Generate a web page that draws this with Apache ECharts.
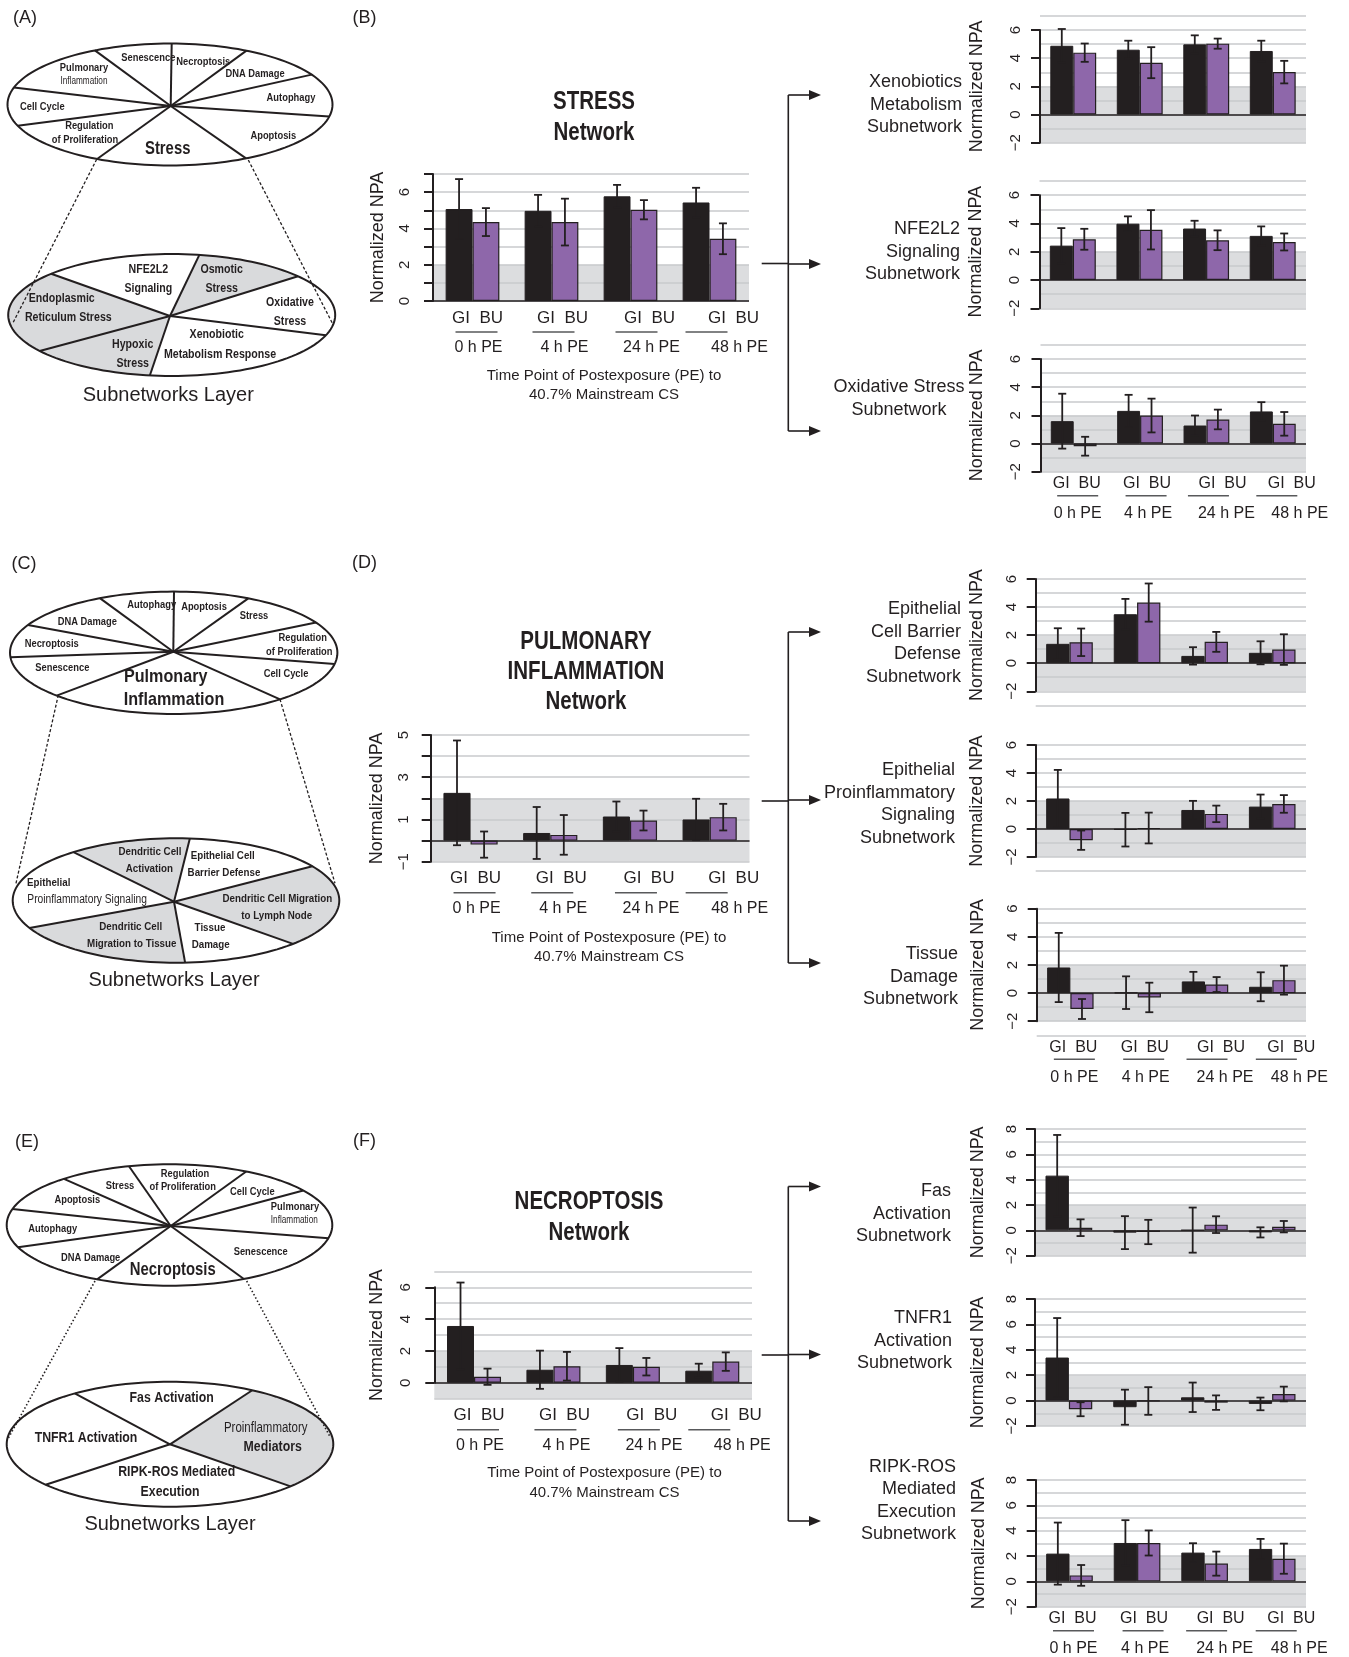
<!DOCTYPE html>
<html>
<head>
<meta charset="utf-8">
<script src="https://cdn.jsdelivr.net/npm/echarts@6/dist/echarts.min.js"></script>
<style>
  html, body { margin: 0; padding: 0; background: #fff; }
  #main { width: 1349px; height: 1657px; }
</style>
</head>
<body>
<div id="main"></div>
<script>
// ---- categories ----
const groupLabels = ['0 h PE', '4 h PE', '24 h PE', '48 h PE'];
const barNames = ['GI', 'BU'];

// ---- tick labels ----
const ticksStress = [0, 2, 4, 6];
const ticksPulm = [-1, 1, 3, 5];
const ticksNecro = [0, 2, 4, 6];
const ticksSub6 = [-2, 0, 2, 4, 6];
const ticksSub8 = [-2, 0, 2, 4, 6, 8];

// ---- Stress network ----
const stressGI = [5.07, 4.97, 5.77, 5.43];
const stressGIErr = [1.65, 0.88, 0.63, 0.81];
const stressBU = [4.35, 4.35, 5.03, 3.43];
const stressBUErr = [0.77, 1.29, 0.53, 0.85];

const xenoGI = [4.88, 4.60, 4.98, 4.51];
const xenoGIErr = [1.19, 0.64, 0.64, 0.73];
const xenoBU = [4.39, 3.68, 5.03, 3.01];
const xenoBUErr = [0.65, 1.10, 0.36, 0.80];

const nfeGI = [2.43, 3.98, 3.64, 3.12];
const nfeGIErr = [1.24, 0.52, 0.55, 0.67];
const nfeBU = [2.88, 3.55, 2.81, 2.69];
const nfeBUErr = [0.74, 1.39, 0.70, 0.60];

const oxiGI = [1.59, 2.32, 1.28, 2.28];
const oxiGIErr = [1.95, 1.14, 0.71, 0.66];
const oxiBU = [-0.19, 1.99, 1.71, 1.40];
const oxiBUErr = [0.67, 1.20, 0.70, 0.84];

// ---- Pulmonary inflammation network ----
const pulmGI = [2.26, 0.36, 1.14, 1.00];
const pulmGIErr = [2.48, 1.23, 0.71, 0.98];
const pulmBU = [-0.19, 0.27, 0.95, 1.11];
const pulmBUErr = [0.62, 0.94, 0.47, 0.63];

const barrierGI = [1.38, 3.49, 0.52, 0.74];
const barrierGIErr = [1.11, 1.09, 0.62, 0.82];
const barrierBU = [1.49, 4.32, 1.52, 0.97];
const barrierBUErr = [0.98, 1.36, 0.71, 1.09];

const proinfGI = [2.18, -0.05, 1.36, 1.60];
const proinfGIErr = [2.04, 1.20, 0.65, 0.86];
const proinfBU = [-0.80, 0.07, 1.08, 1.79];
const proinfBUErr = [0.69, 1.10, 0.59, 0.63];

const tissueGI = [1.82, 0.03, 0.83, 0.45];
const tissueGIErr = [2.46, 1.16, 0.68, 1.03];
const tissueBU = [-1.13, -0.31, 0.61, 0.92];
const tissueBUErr = [0.71, 1.05, 0.53, 1.03];

// ---- Necroptosis network ----
const necroGI = [3.57, 0.82, 1.12, 0.76];
const necroGIErr = [2.73, 1.20, 1.06, 0.44];
const necroBU = [0.38, 1.04, 1.01, 1.33];
const necroBUErr = [0.51, 0.90, 0.55, 0.58];

const fasGI = [4.32, -0.18, 0.02, -0.16];
const fasGIErr = [3.21, 1.30, 1.78, 0.40];
const fasBU = [0.21, -0.13, 0.45, 0.29];
const fasBUErr = [0.66, 0.96, 0.66, 0.45];

const tnfGI = [3.39, -0.52, 0.26, -0.26];
const tnfGIErr = [3.11, 1.38, 1.16, 0.50];
const tnfBU = [-0.68, -0.03, -0.16, 0.52];
const tnfBUErr = [0.55, 1.09, 0.57, 0.58];

const ripkGI = [2.19, 3.03, 2.27, 2.56];
const ripkGIErr = [2.45, 1.80, 0.74, 0.79];
const ripkBU = [0.47, 3.03, 1.40, 1.79];
const ripkBUErr = [0.82, 0.99, 0.95, 1.19];

// ---- styling ----
const FONT = '"Liberation Sans", Arial, Helvetica, sans-serif';
const INK = '#231f20';
const PURPLE = '#8e67aa';
const BAND = '#dcdddf';
const GRIDC = '#c9cacc';
const SECTOR = '#d9dadc';

// layout of each bar chart (pixel frame + value frames)
const charts = [
  { gi: stressGI, giErr: stressGIErr, bu: stressBU, buErr: stressBUErr, ticks: ticksStress,
    left: 433, right: 749, top: 174, bottom: 301, lo: 0, hi: 7, aLo: 0, aHi: 7, aInt: 1,
    band: [0, 2], main: true, xlab: true, nameGap: 46, labMargin: 21 },
  { gi: xenoGI, giErr: xenoGIErr, bu: xenoBU, buErr: xenoBUErr, ticks: ticksSub6,
    left: 1040, right: 1306, top: 15.9, bottom: 142.7, lo: -2, hi: 7, aLo: -2, aHi: 6, aInt: 2,
    band: [-2, 2], main: false, xlab: false, nameGap: 54, labMargin: 17 },
  { gi: nfeGI, giErr: nfeGIErr, bu: nfeBU, buErr: nfeBUErr, ticks: ticksSub6,
    left: 1039.5, right: 1306, top: 181, bottom: 308.3, lo: -2, hi: 7, aLo: -2, aHi: 6, aInt: 2,
    band: [-2, 2], main: false, xlab: false, nameGap: 54, labMargin: 17 },
  { gi: oxiGI, giErr: oxiGIErr, bu: oxiBU, buErr: oxiBUErr, ticks: ticksSub6,
    left: 1040.5, right: 1306, top: 345, bottom: 471.7, lo: -2, hi: 7, aLo: -2, aHi: 6, aInt: 2,
    band: [-2, 2], main: false, xlab: true, nameGap: 54, labMargin: 17 },

  { gi: pulmGI, giErr: pulmGIErr, bu: pulmBU, buErr: pulmBUErr, ticks: ticksPulm,
    left: 430.7, right: 749.5, top: 735, bottom: 861.7, lo: -1, hi: 5, aLo: -1, aHi: 5, aInt: 1,
    band: [-1, 2], main: true, xlab: true, nameGap: 45, labMargin: 19 },
  { gi: barrierGI, giErr: barrierGIErr, bu: barrierBU, buErr: barrierBUErr, ticks: ticksSub6,
    left: 1035.7, right: 1306, top: 579, bottom: 705.3, lo: -3, hi: 6, aLo: -2, aHi: 6, aInt: 2,
    band: [-2, 2], main: false, xlab: false, nameGap: 50, labMargin: 16 },
  { gi: proinfGI, giErr: proinfGIErr, bu: proinfBU, buErr: proinfBUErr, ticks: ticksSub6,
    left: 1035.7, right: 1306, top: 745, bottom: 871, lo: -3, hi: 6, aLo: -2, aHi: 6, aInt: 2,
    band: [-2, 2], main: false, xlab: false, nameGap: 50, labMargin: 16 },
  { gi: tissueGI, giErr: tissueGIErr, bu: tissueBU, buErr: tissueBUErr, ticks: ticksSub6,
    left: 1036.7, right: 1306, top: 908.7, bottom: 1035.3, lo: -3, hi: 6, aLo: -2, aHi: 6, aInt: 2,
    band: [-2, 2], main: false, xlab: true, nameGap: 50, labMargin: 16 },

  { gi: necroGI, giErr: necroGIErr, bu: necroBU, buErr: necroBUErr, ticks: ticksNecro,
    left: 434.3, right: 752, top: 1271.4, bottom: 1398.7, lo: -1, hi: 7, aLo: 0, aHi: 6, aInt: 2,
    band: [-1, 2], main: true, xlab: true, nameGap: 48, labMargin: 21 },
  { gi: fasGI, giErr: fasGIErr, bu: fasBU, buErr: fasBUErr, ticks: ticksSub8,
    left: 1035, right: 1306, top: 1129, bottom: 1255.7, lo: -2, hi: 8, aLo: -2, aHi: 8, aInt: 2,
    band: [-2, 2], main: false, xlab: false, nameGap: 48, labMargin: 16 },
  { gi: tnfGI, giErr: tnfGIErr, bu: tnfBU, buErr: tnfBUErr, ticks: ticksSub8,
    left: 1035, right: 1306, top: 1299, bottom: 1426, lo: -2, hi: 8, aLo: -2, aHi: 8, aInt: 2,
    band: [-2, 2], main: false, xlab: false, nameGap: 48, labMargin: 16 },
  { gi: ripkGI, giErr: ripkGIErr, bu: ripkBU, buErr: ripkBUErr, ticks: ticksSub8,
    left: 1035.7, right: 1306, top: 1480, bottom: 1606.7, lo: -2, hi: 8, aLo: -2, aHi: 8, aInt: 2,
    band: [-2, 2], main: false, xlab: true, nameGap: 48, labMargin: 16 }
];

const option = {
  animation: false,
  backgroundColor: '#fff',
  textStyle: { fontFamily: FONT, color: INK },
  grid: [], xAxis: [], yAxis: [], series: []
};

// category labels: "GI  BU", a short rule, then the time point
function xLabel(main) {
  const fa = main ? 17 : 16, fp = 16;
  const la = main ? 20 : 18, lh = main ? 8 : 6, lp = main ? 24 : 30;
  const offA = main ? [5, 11, 19, 24] : [3, 7, 16, 19];
  const offH = main ? [4, 2, 6, -3] : [4, 6, 2, 4];
  const offP = main ? [6, 13, 21, 30] : [4, 8, 20, 27];
  const rich = {
    a: { fontSize: fa, lineHeight: la, color: INK, align: 'center', fontFamily: FONT },
    h: { width: main ? 42 : 41, height: 0, borderColor: '#58595b', borderWidth: 1.4, lineHeight: lh, align: 'center' },
    p: { fontSize: fp, lineHeight: lp, color: INK, align: 'center', fontFamily: FONT }
  };
  function seg(key, lineH, off, content) {
    if (!off) return '{' + key + '|' + content + '}';
    const w = Math.abs(off) * 2;
    const sp = key + 's' + w;
    rich[sp] = { width: w, lineHeight: lineH, align: 'center' };
    const body = '{' + key + '|' + content + '}';
    return off > 0 ? '{' + sp + '|}' + body : body + '{' + sp + '|}';
  }
  const texts = groupLabels.map((g, i) => [
    seg('a', la, offA[i], barNames.join('  ')),
    seg('h', lh, offH[i], ''),
    seg('p', lp, offP[i], g)
  ].join('\n'));
  return {
    show: true, interval: 0, margin: main ? 7 : 3, color: INK,
    formatter: (v, i) => texts[i], rich: rich
  };
}

function bandRender(params, api) {
  const cs = params.coordSys;
  const y1 = api.coord([0, api.value(2)])[1];
  const y0 = api.coord([0, api.value(1)])[1];
  return { type: 'rect', shape: { x: cs.x, y: y1, width: cs.width, height: y0 - y1 }, style: { fill: BAND } };
}

function errRender(side, ratio) {
  return function (params, api) {
    const ci = api.value(0), v = api.value(1), e = api.value(2);
    const bw = api.size([1, 0])[0] * ratio;
    const x = api.coord([ci, v])[0] + side * bw / 2;
    const top = api.coord([ci, v + e])[1];
    const bot = api.coord([ci, v - e])[1];
    const cap = 4;
    const st = { stroke: INK, lineWidth: 1.8 };
    return { type: 'group', children: [
      { type: 'line', shape: { x1: x, y1: top, x2: x, y2: bot }, style: st },
      { type: 'line', shape: { x1: x - cap, y1: top, x2: x + cap, y2: top }, style: st },
      { type: 'line', shape: { x1: x - cap, y1: bot, x2: x + cap, y2: bot }, style: st }
    ] };
  };
}

function fmtTick(v) { return v < 0 ? '\u2212' + (-v) : String(v); }

charts.forEach(c => {
  const gi = option.grid.length;
  const ppu = (c.bottom - c.top) / (c.hi - c.lo);
  const yA = c.top + (c.hi - c.aHi) * ppu;
  const yB = c.bottom - (c.aLo - c.lo) * ppu;
  option.grid.push({ left: c.left, top: c.top, width: c.right - c.left, height: c.bottom - c.top });
  option.grid.push({ left: c.left, top: yA, width: 1, height: yB - yA });

  const xi = option.xAxis.length;
  option.xAxis.push({
    type: 'category', gridIndex: gi, data: groupLabels,
    axisLine: { show: false, onZero: false }, axisTick: { show: false },
    axisLabel: c.xlab ? xLabel(c.main) : { show: false }
  });
  option.xAxis.push({ type: 'value', gridIndex: gi + 1, show: false, min: 0, max: 1 });

  const yi = option.yAxis.length;
  option.yAxis.push({
    type: 'value', gridIndex: gi, min: c.lo, max: c.hi, interval: 1,
    axisLine: { show: false }, axisTick: { show: false }, axisLabel: { show: false },
    splitLine: { show: true, lineStyle: { color: GRIDC, width: 1.5 } }
  });
  const tk = c.ticks;
  option.yAxis.push({
    type: 'value', gridIndex: gi + 1, min: c.aLo, max: c.aHi, interval: c.aInt,
    axisLine: { show: true, onZero: false, lineStyle: { color: INK, width: 2 } },
    axisTick: { show: true, length: 9, lineStyle: { color: INK, width: 2 } },
    splitLine: { show: false },
    axisLabel: {
      rotate: 90, margin: c.labMargin, fontSize: 15, color: INK, fontFamily: FONT,
      showMinLabel: true, showMaxLabel: true,
      formatter: v => (tk.indexOf(v) >= 0 ? fmtTick(v) : '')
    },
    name: 'Normalized NPA', nameLocation: 'middle', nameGap: c.nameGap, nameRotate: 90,
    nameTextStyle: { fontSize: 18, color: INK, fontFamily: FONT }
  });

  const bw = c.main ? 0.34 : 0.345;
  option.series.push({
    type: 'custom', xAxisIndex: xi, yAxisIndex: yi, z: -1, silent: true,
    data: [[0, c.band[0], c.band[1]]], encode: { x: 0, y: 1 }, renderItem: bandRender
  });
  option.series.push({
    type: 'bar', name: barNames[0], xAxisIndex: xi, yAxisIndex: yi, data: c.gi,
    barWidth: (bw * 100) + '%', barGap: '0%', silent: true,
    itemStyle: { color: INK, borderColor: INK, borderWidth: 1 },
    markLine: {
      silent: true, symbol: ['none', 'none'], label: { show: false },
      lineStyle: { color: INK, width: 1.6, type: 'solid' }, data: [{ yAxis: 0 }]
    }
  });
  option.series.push({
    type: 'bar', name: barNames[1], xAxisIndex: xi, yAxisIndex: yi, data: c.bu,
    barWidth: (bw * 100) + '%', barGap: '0%', silent: true,
    itemStyle: { color: PURPLE, borderColor: INK, borderWidth: 1.2 }
  });
  option.series.push({
    type: 'custom', xAxisIndex: xi, yAxisIndex: yi, z: 4, silent: true,
    data: c.gi.map((v, i) => [i, v, c.giErr[i]]), encode: { x: 0, y: 1 }, renderItem: errRender(-1, bw)
  });
  option.series.push({
    type: 'custom', xAxisIndex: xi, yAxisIndex: yi, z: 4, silent: true,
    data: c.bu.map((v, i) => [i, v, c.buErr[i]]), encode: { x: 0, y: 1 }, renderItem: errRender(1, bw)
  });
});

// ---------------- graphic layer: network diagrams, titles, arrows ----------------
const G = [];
function txt(s, x, y, o) {
  o = o || {};
  G.push({
    type: 'text', x: x, y: y, scaleX: o.sx || 1, z: o.z || 20, silent: true,
    style: {
      text: s, fill: INK, fontFamily: FONT, fontSize: o.size || 11,
      fontWeight: o.bold === false ? 'normal' : 'bold',
      align: o.align || 'center', verticalAlign: 'middle', lineHeight: o.lh
    }
  });
}
function seg(x1, y1, x2, y2, w, dash, z) {
  G.push({ type: 'line', silent: true, z: z || 8, shape: { x1: x1, y1: y1, x2: x2, y2: y2 },
    style: { stroke: INK, lineWidth: w || 1.5, lineDash: dash || undefined } });
}
function ellPt(e, t) { return [e.cx + e.rx * Math.cos(t), e.cy + e.ry * Math.sin(t)]; }
function ellT(e, p) { return Math.atan2((p[1] - e.cy) / e.ry, (p[0] - e.cx) / e.rx); }
function wheel(e, hub, spokes, grey) {
  (grey || []).forEach(pr => {
    let t1 = ellT(e, pr[0]), t2 = ellT(e, pr[1]);
    if (t2 < t1) t2 += 2 * Math.PI;
    const pts = [hub];
    for (let i = 0; i <= 40; i++) pts.push(ellPt(e, t1 + (t2 - t1) * i / 40));
    G.push({ type: 'polygon', silent: true, z: 2, shape: { points: pts }, style: { fill: SECTOR } });
  });
  spokes.forEach(p => {
    const q = ellPt(e, ellT(e, p));
    seg(hub[0], hub[1], q[0], q[1], 2, null, 12);
  });
  const pts = [];
  for (let i = 0; i < 160; i++) pts.push(ellPt(e, 2 * Math.PI * i / 160));
  G.push({ type: 'polygon', silent: true, z: 12, shape: { points: pts }, style: { fill: 'none', stroke: INK, lineWidth: 2 } });
}
const SX = 0.85;
function small(list, size) {
  list.forEach(l => txt(l[0], l[1], l[2], Object.assign({ size: size, sx: SX }, l[3] || {})));
}

// panel letters
[['(A)', 25, 18], ['(B)', 364.5, 18], ['(C)', 24, 564], ['(D)', 364.5, 563], ['(E)', 27, 1142], ['(F)', 364.5, 1141]]
  .forEach(l => txt(l[0], l[1], l[2], { size: 18, bold: false }));

// ---- (A) stress wheel ----
const aTop = { cx: 170, cy: 104.5, rx: 162.5, ry: 61 };
const aLow = { cx: 171.7, cy: 315, rx: 163.5, ry: 61 };
seg(96.7, 159.3, 12.7, 323.3, 1.3, [3, 2], 6);
seg(248.3, 160, 333.3, 325, 1.3, [3, 2], 6);
wheel(aTop, [170.7, 106], [[96.7, 51.7], [171.7, 43.3], [245, 51.7], [310, 75], [330.7, 116.7], [248.3, 160], [96.7, 159.3], [16, 126], [15, 87.7]]);
wheel(aLow, [170, 316], [[51.7, 274], [199.3, 255], [296.7, 276.7], [323.3, 335], [150, 375], [43.3, 350]],
  [[[199.3, 255], [296.7, 276.7]], [[150, 375], [43.3, 350]], [[43.3, 350], [51.7, 274]]]);
small([['Senescence', 148.3, 58.3], ['Necroptosis', 203.3, 61.7], ['Pulmonary', 84, 68.3],
  ['Inflammation', 84, 81.7, { bold: false, size: 10, sx: 0.82 }], ['DNA Damage', 255, 74], ['Autophagy', 291, 98.3],
  ['Cell Cycle', 42.3, 107.3], ['Apoptosis', 273.3, 136], ['Regulation', 89.3, 126], ['of Proliferation', 85, 140],
  ['Stress', 167.7, 149.3, { size: 17.5 }]], 11);
small([['NFE2L2', 148.3, 269.3], ['Signaling', 148.3, 288.7], ['Osmotic', 221.7, 269.3], ['Stress', 221.7, 288.3],
  ['Oxidative', 290, 302.7], ['Stress', 290, 321.7], ['Xenobiotic', 216.7, 334.3], ['Metabolism Response', 220, 354.3],
  ['Hypoxic', 132.7, 344.3], ['Stress', 132.7, 363.3], ['Endoplasmic', 61.7, 298.3], ['Reticulum Stress', 68.3, 317.3]], 12.5);
txt('Subnetworks Layer', 168.3, 395, { size: 20, bold: false });

// ---- (C) pulmonary inflammation wheel ----
const cTop = { cx: 173.7, cy: 652.8, rx: 163.7, ry: 61.2 };
const cLow = { cx: 176, cy: 900.5, rx: 163.3, ry: 62.2 };
seg(58.3, 695, 16, 883.3, 1.3, [3, 2], 6);
seg(280, 699.3, 335, 883.3, 1.3, [3, 2], 6);
wheel(cTop, [173.3, 651.7], [[100, 598.3], [174, 591.7], [248.3, 598.3], [320, 621.7], [335, 664], [280, 699.3], [58.3, 695], [11.7, 657.3], [28.3, 625]]);
wheel(cLow, [174, 901.7], [[76, 853.3], [189.3, 841], [308.3, 867.3], [293.3, 944], [185, 961.7], [30.7, 927.7]],
  [[[76, 853.3], [189.3, 841]], [[308.3, 867.3], [293.3, 944]], [[185, 961.7], [30.7, 927.7]]]);
small([['Autophagy', 151.7, 605], ['Apoptosis', 204, 606.7], ['Stress', 254, 616], ['DNA Damage', 87.3, 621.7],
  ['Regulation', 302.7, 638.3], ['of Proliferation', 299.3, 651.7], ['Necroptosis', 51.7, 644], ['Senescence', 62.3, 668.3],
  ['Cell Cycle', 286, 674], ['Pulmonary', 165.7, 676.7, { size: 19 }], ['Inflammation', 174, 700, { size: 19 }]], 11);
small([['Dendritic Cell', 150, 852.3], ['Activation', 149.3, 869.3], ['Epithelial Cell', 222.7, 855.7], ['Barrier Defense', 224, 872.7],
  ['Epithelial', 27, 882.7, { align: 'left' }], ['Proinflammatory Signaling', 27.3, 900, { align: 'left', bold: false, size: 12.5, sx: 0.82 }],
  ['Dendritic Cell Migration', 277.3, 899.3], ['to Lymph Node', 276.7, 916], ['Tissue', 210, 927.7], ['Damage', 210.7, 945],
  ['Dendritic Cell', 130.7, 927.3], ['Migration to Tissue', 131.7, 944]], 11.5);
txt('Subnetworks Layer', 174, 980.7, { size: 20, bold: false });

// ---- (E) necroptosis wheel ----
const eTop = { cx: 169.5, cy: 1225, rx: 162.8, ry: 60.7 };
const eLow = { cx: 170, cy: 1444.2, rx: 163.3, ry: 62.5 };
seg(95, 1281, 7.3, 1440, 1.6, [1.5, 2.2], 6);
seg(246.7, 1281, 330, 1436.7, 1.6, [1.5, 2.2], 6);
wheel(eTop, [170.7, 1226], [[66.7, 1180], [129.3, 1166.7], [248.3, 1170], [298.3, 1191.7], [330, 1238.3], [246.7, 1281], [95, 1281], [15, 1247.7], [15, 1209.3]]);
wheel(eLow, [170, 1444.3], [[68.3, 1390], [250, 1391.7], [286.7, 1485], [50, 1483.3]], [[[250, 1391.7], [286.7, 1485]]]);
small([['Stress', 120, 1185.7], ['Regulation', 185, 1174.3], ['of Proliferation', 182.7, 1187.3], ['Cell Cycle', 252.3, 1191.7],
  ['Pulmonary', 295, 1207.3], ['Inflammation', 294.3, 1220.7, { bold: false, size: 10, sx: 0.82 }], ['Apoptosis', 77.3, 1200],
  ['Autophagy', 52.7, 1229], ['DNA Damage', 90.7, 1257.7], ['Senescence', 260.7, 1252.3], ['Necroptosis', 172.7, 1270, { size: 17.5 }]], 11);
small([['Fas Activation', 171.7, 1398.3], ['TNFR1 Activation', 86, 1438.3],
  ['Proinflammatory', 265.7, 1428.3, { bold: false, size: 14, sx: 0.82 }], ['Mediators', 272.7, 1446.7],
  ['RIPK-ROS Mediated', 176.7, 1472.3], ['Execution', 170, 1491.7]], 14.5);
txt('Subnetworks Layer', 170, 1524, { size: 20, bold: false });

// ---- network titles and x-axis captions ----
function heading(lines, x, ys) {
  lines.forEach((s, i) => txt(s, x, ys[i], { size: 25, sx: 0.82 }));
}
heading(['STRESS', 'Network'], 594, [102, 133]);
heading(['PULMONARY', 'INFLAMMATION', 'Network'], 586, [641.7, 671.7, 701.7]);
heading(['NECROPTOSIS', 'Network'], 589, [1202, 1232.7]);
const caption = ['Time Point of Postexposure (PE) to', '40.7% Mainstream CS'];
[[604, 376, 395], [609, 938, 957], [604.5, 1472.7, 1492.7]].forEach(p => {
  txt(caption[0], p[0], p[1], { size: 15, bold: false });
  txt(caption[1], p[0], p[2], { size: 15, bold: false });
});

// ---- subnetwork names ----
function side(s, x, y, align) { txt(s, x, y, { size: 18, bold: false, align: align || 'right', lh: 22.5 }); }
side('Xenobiotics\nMetabolism\nSubnetwork', 962, 104.8);
side('NFE2L2\nSignaling\nSubnetwork', 960, 251.7);
side('Oxidative Stress\nSubnetwork', 899, 398.3, 'center');
side('Epithelial\nCell Barrier\nDefense\nSubnetwork', 961, 642.8);
side('Epithelial\nProinflammatory\nSignaling\nSubnetwork', 955, 804);
side('Tissue\nDamage\nSubnetwork', 958, 977);
side('Fas\nActivation\nSubnetwork', 951, 1213.8);
side('TNFR1\nActivation\nSubnetwork', 952, 1340.6);
side('RIPK-ROS\nMediated\nExecution\nSubnetwork', 956, 1500.7);

// ---- arrows from each network to its subnetworks ----
function arrows(yTop, yMid, yBot, yIn) {
  const vx = 788.3, tip = 821;
  seg(vx, yTop, vx, yBot, 1.6);
  seg(761.7, yIn, vx, yIn, 1.6);
  [yTop, yMid, yBot].forEach(y => {
    seg(vx, y, tip - 8, y, 1.6);
    G.push({ type: 'polygon', silent: true, z: 9, shape: { points: [[tip, y], [tip - 12, y - 5], [tip - 12, y + 5]] }, style: { fill: INK } });
  });
}
arrows(95, 264, 431, 263.5);
arrows(632, 800, 963, 801);
arrows(1186.5, 1354.5, 1521, 1355);

option.graphic = { elements: G };

const chart = echarts.init(document.getElementById('main'), null, { renderer: 'canvas', width: 1349, height: 1657 });
chart.setOption(option);
</script>
</body>
</html>
